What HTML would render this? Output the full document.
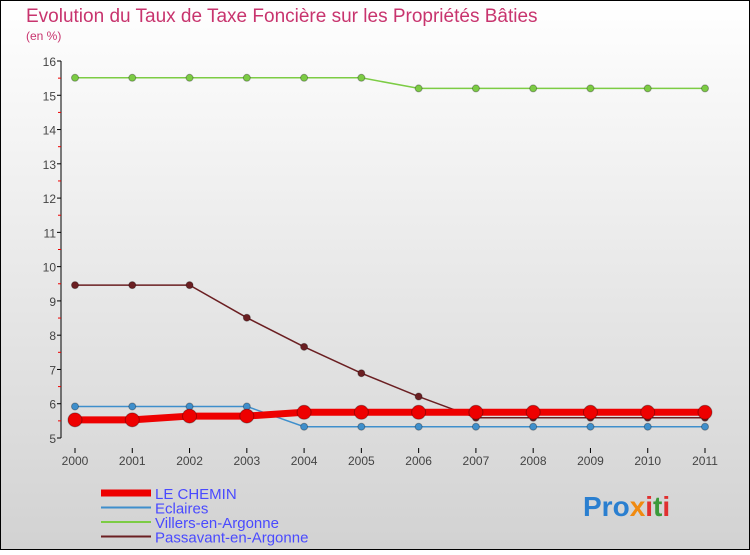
<!DOCTYPE html>
<html><head><meta charset="utf-8"><style>
html,body{margin:0;padding:0}
body{width:750px;height:550px;overflow:hidden;font-family:"Liberation Sans",sans-serif}
</style></head><body>
<svg id="chart" width="750" height="550" xmlns="http://www.w3.org/2000/svg">
<defs><linearGradient id="bg" x1="0" y1="0" x2="0" y2="1"><stop offset="0" stop-color="#ffffff"/><stop offset="1" stop-color="#d2d2d2"/></linearGradient></defs>
<rect x="0.5" y="0.5" width="749" height="549" fill="url(#bg)" stroke="#000"/>
<text x="26" y="22" font-size="19" fill="#c8346e">Evolution du Taux de Taxe Foncière sur les Propriétés Bâties</text>
<text x="26" y="40" font-size="12" fill="#c8346e">(en %)</text>
<g id="axes"></g>
<g id="series"></g>
<g id="legend"></g>
<text x="583" y="516" font-size="28" font-weight="bold"><tspan fill="#2a7fd0">Pro</tspan><tspan fill="#f08a10">x</tspan><tspan fill="#e03030">i</tspan><tspan fill="#3a9a3a">t</tspan><tspan fill="#e03030">i</tspan></text>
</svg>
<script>
const years = [2000,2001,2002,2003,2004,2005,2006,2007,2008,2009,2010,2011];
const yTicks = [5,6,7,8,9,10,11,12,13,14,15,16];
const leChemin = [5.53,5.53,5.64,5.64,5.75,5.75,5.75,5.75,5.75,5.75,5.75,5.75];
const eclaires = [5.92,5.92,5.92,5.92,5.33,5.33,5.33,5.33,5.33,5.33,5.33,5.33];
const villers = [15.51,15.51,15.51,15.51,15.51,15.51,15.2,15.2,15.2,15.2,15.2,15.2];
const passavant = [9.46,9.46,9.46,8.51,7.66,6.89,6.21,5.59,5.59,5.59,5.59,5.59];
const NS="http://www.w3.org/2000/svg";
const x = i => 75 + i*(630/11);
const y = v => 438 - (v-5)*(377/11);
function mk(tag, attrs, parent, txt){const e=document.createElementNS(NS,tag);for(const k in attrs)e.setAttribute(k,attrs[k]);if(txt!==undefined)e.textContent=txt;parent.appendChild(e);return e;}
const axes=document.getElementById('axes');
let a=mk('line',{x1:61,y1:61,x2:61,y2:438,stroke:'#000'},axes);


yTicks.forEach(t=>{
  let l=mk('line',{x1:57,y1:y(t),x2:61,y2:y(t),stroke:'#000'},axes);
  
  
  if(t<16){let m=mk('line',{x1:58,y1:y(t+0.5),x2:61,y2:y(t+0.5),stroke:'#e00'},axes);
  
  }
  let tx=mk('text',{x:56,y:y(t)+5,'text-anchor':'end','font-size':12,fill:'#444'},axes,String(t));
  
  
});
years.forEach((yr,i)=>{
  let l=mk('line',{x1:x(i),y1:448,x2:x(i),y2:453,stroke:'#000'},axes);
  
  
  let tx=mk('text',{x:x(i),y:465,'text-anchor':'middle','font-size':12,fill:'#444'},axes,String(yr));
  
  
});
const ser=document.getElementById('series');
function draw(data,color,width,r,name,labelDy){
  const g=mk('g',{},ser);
  
  
  const pl=mk('polyline',{points:data.map((v,i)=>x(i)+','+y(v)).join(' '),fill:'none',stroke:color,'stroke-width':width},g);
  
  
  data.forEach((v,i)=>{
    const c=mk('circle',{cx:x(i),cy:y(v),r:r,fill:color,stroke:'rgba(0,0,0,0.3)'},g);
    
    
    const t=mk('text',{x:x(i),y:y(v)+labelDy,'text-anchor':'middle','font-size':11,fill:'#444'},g,String(v));
    
    
  });
}
draw(villers,'#7ccc44',1.5,3.5,'villers','-8');
draw(passavant,'#6b1f22',1.5,3.5,'passavant','-8');
draw(eclaires,'#3f8fcc',1.5,3.5,'eclaires','-8');
draw(leChemin,'#ee0000',7,7,'le-chemin','-8');
const lg=document.getElementById('legend');
const items=[['LE CHEMIN','#ee0000',7],['Eclaires','#3f8fcc',2],['Villers-en-Argonne','#7ccc44',2],['Passavant-en-Argonne','#6b1f22',2]];
items.forEach((it,i)=>{
  const yy=493+i*14.5;
  const l=mk('line',{x1:101,y1:yy,x2:151,y2:yy,stroke:it[1],'stroke-width':it[2]},lg);
  
  
  const t=mk('text',{x:155,y:yy+6,'font-size':15,fill:'#4a4aff'},lg,it[0]);
  
  
});
</script>
</body></html>
